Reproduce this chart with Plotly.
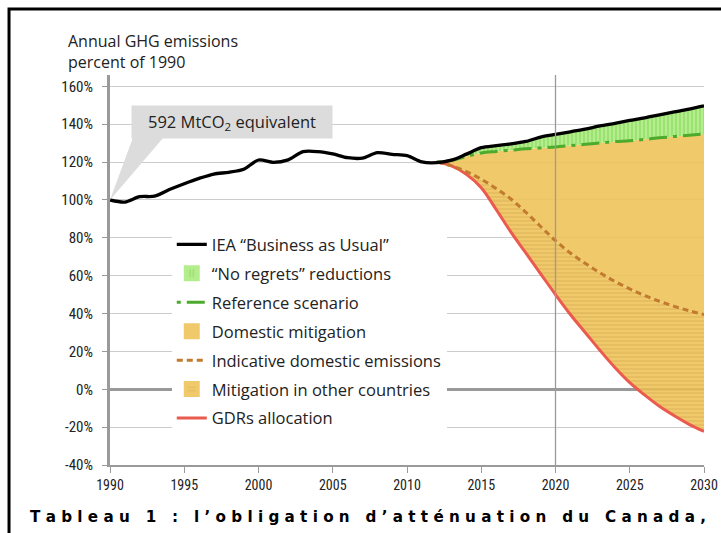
import plotly.graph_objects as go

# ---------------- data ----------------
years = list(range(1990, 2031))
bau = [100, 98.9, 101.7, 102.0, 105.5, 108.6, 111.4, 113.7, 114.6, 116.2,
       121.1, 119.9, 121.2, 125.5, 125.5, 124.3, 122.3, 122.1, 125.0, 124.1,
       123.4, 120.1, 119.7, 121.0, 124.2, 127.6, 128.7, 129.6, 130.9, 133.2,
       134.6, 136.0, 137.4, 139.1, 140.5, 142.0, 143.4, 145.0, 146.5, 148.0,
       149.7]
fut_years = list(range(2012, 2031))
reference = [120, 121, 123, 124.8, 125.6, 126.3, 127, 127.5, 128, 128.7,
             129.4, 130.1, 130.8, 131.3, 132.0, 132.8, 133.5, 134.2, 134.9]
indicative = [120, 118, 115, 111, 106, 100.5, 93.5, 86, 78.5, 72,
              66.5, 61.5, 57, 53, 49.5, 46.5, 43.8, 41.5, 39.5]
gdrs = [120, 118, 113.5, 106.5, 95, 83, 72, 61, 50, 39.5,
        30, 20.5, 11.5, 3.5, -3, -9, -14, -18.5, -22.3]
bau_fut = bau[years.index(2012):]

yticks = list(range(-40, 161, 20))
ytick_text = [f"{v}%" for v in yticks]
xticks = list(range(1990, 2031, 5))

YELLOW = "rgba(238,195,90,0.9)"
YELLOW_SOLID = "rgb(240,201,106)"
YELLOW_STRIPE = "rgba(205,160,70,0.75)"
GREEN_BG = "rgba(180,238,140,1)"
GREEN_STRIPE = "rgba(110,205,70,0.9)"

FONT = "Open Sans, Noto Sans, sans-serif"
NARROW = "Liberation Sans Narrow, Roboto Condensed, Open Sans, sans-serif"

fig = go.Figure()

# base for fills
fig.add_trace(go.Scatter(x=fut_years, y=gdrs, mode="lines", line=dict(width=0, shape="spline"),
                         showlegend=False, hoverinfo="skip"))
fig.add_trace(go.Scatter(x=fut_years, y=indicative, mode="lines", fill="tonexty",
                         line=dict(width=0, shape="spline"), fillcolor=YELLOW,
                         fillpattern=dict(shape="-", fgcolor=YELLOW_STRIPE, bgcolor=YELLOW,
                                          size=4, solidity=0.35),
                         showlegend=False, hoverinfo="skip"))
fig.add_trace(go.Scatter(x=fut_years, y=reference, mode="lines", fill="tonexty",
                         line=dict(width=0, shape="spline"), fillcolor=YELLOW,
                         showlegend=False, hoverinfo="skip"))
fig.add_trace(go.Scatter(x=fut_years, y=bau_fut, mode="lines", fill="tonexty",
                         line=dict(width=0, shape="spline"), fillcolor=GREEN_BG,
                         fillpattern=dict(shape="|", fgcolor=GREEN_STRIPE, bgcolor=GREEN_BG,
                                          size=4, solidity=0.4),
                         showlegend=False, hoverinfo="skip"))

# lines
fig.add_trace(go.Scatter(x=fut_years, y=gdrs, mode="lines",
                         line=dict(color="#ea5a4f", width=3, shape="spline"),
                         name="GDRs allocation", legendgroup="g7", legendrank=7, hoverinfo="skip"))
fig.add_trace(go.Scatter(x=fut_years, y=indicative, mode="lines",
                         line=dict(color="#c27a2c", width=3, dash="6px,4px", shape="spline"),
                         name="Indicative domestic emissions", legendgroup="g5", legendrank=5,
                         hoverinfo="skip"))
fig.add_trace(go.Scatter(x=fut_years, y=reference, mode="lines",
                         line=dict(color="#4caa2c", width=3, dash="4px,6px,18px,6px", shape="spline"),
                         name="Reference scenario", legendgroup="g3", legendrank=3, hoverinfo="skip"))
fig.add_trace(go.Scatter(x=years, y=bau, mode="lines",
                         line=dict(color="black", width=3.3, shape="spline", smoothing=0.8),
                         name="IEA \u201cBusiness as Usual\u201d", legendgroup="g1", legendrank=1,
                         hoverinfo="skip"))

# legend-only swatches for the filled areas
fig.add_trace(go.Bar(x=[None], y=[None], name="\u201cNo regrets\u201d reductions",
                     marker=dict(color=GREEN_BG, line=dict(color=GREEN_BG, width=4),
                                 pattern=dict(shape="|", fgcolor=GREEN_STRIPE, bgcolor=GREEN_BG,
                                              size=4, solidity=0.4)),
                     legendgroup="g2", legendrank=2, hoverinfo="skip"))
fig.add_trace(go.Bar(x=[None], y=[None], name="Domestic mitigation",
                     marker=dict(color=YELLOW_SOLID, line=dict(color=YELLOW_SOLID, width=4)),
                     legendgroup="g4", legendrank=4, hoverinfo="skip"))
fig.add_trace(go.Bar(x=[None], y=[None], name="Mitigation in other countries",
                     marker=dict(color=YELLOW_SOLID, line=dict(color=YELLOW_SOLID, width=4),
                                 pattern=dict(shape="-", fgcolor=YELLOW_STRIPE, bgcolor=YELLOW_SOLID,
                                              size=4, solidity=0.35)),
                     legendgroup="g6", legendrank=6, hoverinfo="skip"))

# callout wedge and vertical 2020 line
fig.add_shape(type="path", xref="x", yref="y",
              path="M 1990,100 L 1991.55,133 L 1993.6,133 Z",
              fillcolor="#dcdcdc", line=dict(width=0), layer="above")
fig.add_shape(type="line", xref="x", yref="paper", x0=2020, x1=2020, y0=0, y1=1,
              line=dict(color="#9a9a9a", width=1.3), layer="above")

# frame
fig.add_shape(type="path", xref="paper", yref="paper",
              path="M -0.170,-0.3 L -0.170,1.169 L 1.2,1.169",
              line=dict(color="black", width=3))

fig.add_annotation(x=1998.2, y=141, xref="x", yref="y",
                   text="592 MtCO<sub>2</sub> equivalent", showarrow=False,
                   font=dict(family=FONT, size=16.5, color="#222"),
                   bgcolor="#dcdcdc", borderpad=5, width=190, height=22)

fig.add_annotation(x=(66 - 110) / 594, y=(465 - 28) / 390, xref="paper", yref="paper",
                   xanchor="left", yanchor="top",
                   text="Annual GHG emissions<br>percent of 1990", showarrow=False, align="left",
                   font=dict(family=FONT, size=16, color="#222"))

caption = "Tableau 1 : l\u2019obligation d\u2019atténuation du Canada,"
spaced = "\u00a0\u00a0\u00a0".join("\u00a0".join(w) for w in caption.split(" "))
fig.add_annotation(x=((30 + 705) / 2 - 110) / 594, y=(465 - 517) / 390, xref="paper", yref="paper",
                   xanchor="center", yanchor="middle",
                   text="<b>" + spaced + "</b>", showarrow=False,
                   font=dict(family="DejaVu Sans", size=15.2, color="black"))

fig.update_layout(
    width=721, height=533,
    margin=dict(l=110, r=17, t=75, b=68, autoexpand=False),
    paper_bgcolor="white", plot_bgcolor="white",
    showlegend=True,
    legend=dict(x=0.104, y=0.61, xanchor="left", yanchor="top", bgcolor="white",
                font=dict(family=FONT, size=16.5, color="#222"), tracegroupgap=4.5,
                traceorder="grouped", itemwidth=30),
    xaxis=dict(range=[1990, 2030], tickvals=xticks, ticks="outside", ticklen=6, tickcolor="#9a9a9a",
               showline=True, linecolor="#9a9a9a", linewidth=1.5, showgrid=False, zeroline=False,
               automargin=False, ticklabeloverflow="allow",
               tickfont=dict(family=NARROW, size=14, color="#222")),
    yaxis=dict(range=[-40, 166], tickvals=yticks, ticktext=ytick_text, ticks="outside", ticklen=5,
               tickcolor="#9a9a9a", showline=True, linecolor="#9a9a9a", linewidth=3,
               showgrid=True, gridcolor="#cccccc", gridwidth=1, automargin=False,
               ticklabelstandoff=6,
               zeroline=True, zerolinecolor="#999999", zerolinewidth=2.5,
               tickfont=dict(family=NARROW, size=15, color="#222")),
)

fig.write_html("out.html", config={"displayModeBar": False},
               post_script="document.body.style.margin='0';document.body.style.overflow='hidden';")
